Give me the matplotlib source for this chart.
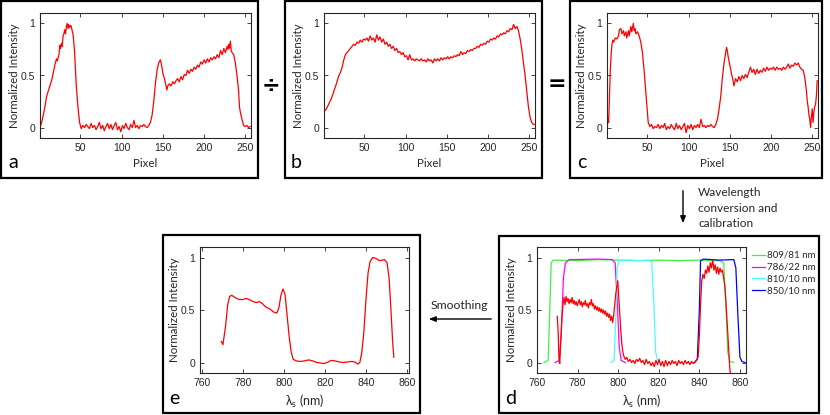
import matplotlib
matplotlib.use("Agg")
import matplotlib.pyplot as plt
from matplotlib.patches import Rectangle, FancyArrowPatch
import numpy as np

W, H = 830, 415

# ---------------- data ----------------
a_px = [1,3,5,7,9,11,13,15,17,19,21,22,24,25,26,27,28,29,30,31,32,33,34,35,36,37,38,39,40,41,42,43,44,45,46,47,48,49,50,51,
        53,55,57,59,61,63,65,67,69,71,73,75,77,79,81,83,85,87,89,91,93,95,97,99,101,103,105,107,109,111,113,115,117,119,121,123,125,127,129,131,133,
        135,137,139,141,143,145,147,148,149,150,152,154,155,156,158,160,162,164,166,168,170,172,174,176,178,180,182,184,186,188,190,192,194,196,198,
        200,202,204,206,208,210,212,214,216,218,220,222,224,226,228,229,230,231,232,233,234,236,238,240,242,243,244,246,248,250,252,254,256]
a_val = [0.00,0.05,0.12,0.20,0.30,0.35,0.40,0.45,0.52,0.60,0.66,0.64,0.70,0.79,0.76,0.81,0.78,0.88,0.90,0.94,0.90,0.97,1.00,0.95,0.99,0.96,0.98,0.97,0.93,0.90,0.82,0.72,0.55,0.40,0.30,0.20,0.12,0.05,0.02,-0.01,
         0.02,0.00,0.03,0.01,-0.01,0.04,0.00,0.02,-0.02,0.01,0.05,-0.01,0.02,-0.03,0.01,0.04,-0.01,0.03,-0.02,0.02,0.05,-0.02,0.01,-0.04,0.02,-0.01,0.04,0.00,-0.02,0.03,0.00,0.07,0.00,0.02,-0.01,0.02,0.01,0.03,0.01,0.00,0.02,
         0.05,0.12,0.25,0.42,0.55,0.62,0.65,0.62,0.58,0.52,0.47,0.40,0.36,0.40,0.42,0.40,0.44,0.42,0.45,0.47,0.44,0.49,0.46,0.51,0.50,0.55,0.52,0.56,0.54,0.58,0.56,0.60,0.58,0.63,0.61,
         0.65,0.62,0.66,0.63,0.67,0.65,0.68,0.66,0.70,0.67,0.74,0.70,0.76,0.72,0.78,0.75,0.80,0.76,0.83,0.74,0.72,0.70,0.62,0.50,0.35,0.20,0.15,0.08,0.02,0.01,0.02,0.00,0.01]

b_px = [1,4,7,10,13,16,19,21,23,25,27,29,31,33,35,37,39,41,43,45,47,49,51,53,55,57,59,61,63,65,67,69,71,73,75,77,79,81,83,85,87,89,91,93,95,97,99,
        101,103,105,107,109,111,113,115,117,119,121,123,125,127,129,131,133,135,137,139,141,143,145,147,149,151,153,155,157,159,161,163,165,167,169,171,173,175,177,179,
        181,183,185,187,189,191,193,195,197,199,201,203,205,207,209,211,213,215,217,219,221,223,225,227,229,231,233,235,237,239,241,243,245,247,249,251,253,255,256]
b_val = [0.15,0.18,0.23,0.28,0.35,0.42,0.50,0.53,0.58,0.65,0.70,0.72,0.74,0.76,0.78,0.80,0.79,0.82,0.81,0.84,0.82,0.85,0.84,0.86,0.83,0.88,0.84,0.86,0.82,0.89,0.84,0.87,0.82,0.85,0.80,0.82,0.78,0.80,0.76,0.78,0.74,0.76,0.72,0.73,0.70,0.72,0.68,
         0.69,0.65,0.70,0.65,0.66,0.64,0.66,0.65,0.64,0.66,0.64,0.65,0.63,0.66,0.64,0.65,0.62,0.66,0.64,0.66,0.64,0.67,0.65,0.67,0.66,0.68,0.66,0.68,0.67,0.69,0.68,0.70,0.69,0.73,0.70,0.72,0.71,0.74,0.73,0.75,
         0.74,0.76,0.76,0.78,0.77,0.80,0.79,0.81,0.80,0.83,0.82,0.85,0.84,0.86,0.85,0.88,0.87,0.90,0.89,0.91,0.90,0.93,0.92,0.95,0.94,0.99,0.95,0.97,0.93,0.85,0.75,0.62,0.50,0.35,0.20,0.10,0.05,0.03,0.03]

c_px = [1,2,3,4,5,6,7,8,9,11,13,15,16,18,19,21,22,24,25,27,28,30,31,33,34,35,36,38,40,42,44,46,48,50,51,53,55,57,59,61,63,65,67,69,71,73,75,77,79,81,83,85,87,89,91,93,95,97,99,
        101,103,105,107,109,111,113,115,117,119,121,123,125,127,129,131,133,135,137,139,141,143,145,146,147,148,150,152,154,155,157,159,161,163,165,167,169,171,173,175,177,179,
        181,183,185,187,189,191,193,195,197,199,201,203,205,207,209,211,213,215,217,219,221,223,225,227,229,231,233,235,237,239,241,243,244,245,246,247,248,249,250,251,252,253,254,255,256]
c_val = [-0.08,0.10,0.05,0.30,0.55,0.70,0.80,0.84,0.82,0.86,0.85,0.88,0.94,0.95,0.90,0.93,0.88,0.92,0.86,0.93,0.88,0.97,0.92,1.00,0.93,0.95,0.90,0.92,0.88,0.82,0.72,0.55,0.35,0.15,0.05,0.01,0.03,-0.01,0.01,0.00,0.03,-0.01,0.02,0.00,0.04,-0.02,0.01,-0.01,0.03,0.00,-0.02,0.04,-0.01,0.02,-0.02,0.01,0.04,-0.05,0.02,
         -0.01,0.03,-0.02,0.02,0.00,0.03,0.00,0.08,0.01,0.02,0.00,0.02,0.01,0.03,0.01,0.00,0.03,0.08,0.18,0.30,0.48,0.62,0.72,0.77,0.74,0.68,0.60,0.52,0.45,0.40,0.47,0.44,0.49,0.45,0.50,0.47,0.51,0.48,0.53,0.58,0.53,0.56,
         0.51,0.56,0.52,0.55,0.53,0.57,0.54,0.58,0.55,0.57,0.56,0.58,0.55,0.58,0.56,0.57,0.55,0.58,0.56,0.58,0.61,0.57,0.60,0.59,0.62,0.60,0.62,0.58,0.56,0.55,0.48,0.35,0.25,0.20,0.12,0.08,0.00,0.10,0.18,0.05,0.15,0.20,0.22,0.30,0.45]

d_nm = [770.0,770.4,770.8,771.2,771.6,772.2,772.8,773.3,773.8,774.3,774.8,775.3,775.8,776.3,776.8,777.3,777.8,778.3,778.8,779.3,779.8,780.3,780.8,781.3,781.8,782.3,782.8,783.3,783.8,784.3,784.8,
        785.3,785.8,786.3,786.8,787.3,787.8,788.3,788.8,789.3,789.8,790.3,790.8,791.3,791.8,792.3,792.8,793.3,793.8,794.3,794.8,795.3,795.8,796.3,796.8,797.3,797.8,798.3,798.8,799.3,799.8,
        800.3,800.8,801.3,801.8,802.3,802.8,803.5,804.2,805.0,805.8,806.6,807.4,808.2,809.0,809.8,810.6,811.4,812.2,813.0,813.8,814.6,815.4,816.2,817.0,817.8,818.6,819.4,820.2,821.0,821.8,
        822.6,823.4,824.2,825.0,825.8,826.6,827.4,828.2,829.0,829.8,830.6,831.4,832.2,833.0,833.8,834.6,835.4,836.2,837.0,837.8,838.6,839.4,840.0,840.6,841.2,841.8,842.4,843.0,843.6,844.2,
        844.8,845.4,846.0,846.6,847.2,847.8,848.4,849.0,849.6,850.2,850.8,851.4,852.0,852.6,853.2,853.8,854.4,855.0,855.5]
d_val = [0.44,0.30,0.05,-0.01,0.15,0.40,0.55,0.62,0.55,0.63,0.58,0.61,0.56,0.60,0.57,0.62,0.56,0.59,0.55,0.58,0.54,0.57,0.60,0.55,0.58,0.53,0.57,0.55,0.59,0.54,0.56,
         0.52,0.57,0.55,0.60,0.54,0.56,0.51,0.54,0.50,0.53,0.49,0.52,0.48,0.51,0.47,0.50,0.46,0.49,0.44,0.47,0.43,0.46,0.40,0.44,0.38,0.45,0.55,0.65,0.72,0.78,
         0.62,0.45,0.30,0.18,0.10,0.06,0.03,0.05,0.01,0.03,0.00,0.02,-0.01,0.03,0.01,0.04,0.00,0.02,-0.02,0.03,-0.01,0.01,-0.03,0.00,-0.04,0.02,-0.02,0.03,-0.03,0.01,
         -0.04,0.02,-0.03,0.01,-0.02,0.02,-0.01,0.01,-0.03,0.02,-0.01,0.01,-0.02,0.02,-0.01,0.01,-0.02,0.01,-0.01,0.00,0.02,0.05,0.25,0.55,0.78,0.84,0.80,0.88,0.85,0.92,
         0.86,0.95,0.90,0.98,0.88,0.93,0.85,0.91,0.84,0.90,0.86,0.88,0.80,0.72,0.55,0.35,0.15,-0.05,-0.15]

f809_nm = [763.5,765.5,766.3,767.0,768.0,780,790,800,810,820,830,840,850,852.0,853.0,854.0,855.0,857.0]
f809_val = [0.0,0.02,0.5,0.95,0.975,0.97,0.98,0.975,0.97,0.975,0.97,0.975,0.97,0.95,0.6,0.1,0.01,0.0]
f786_nm = [769.0,771.0,772.0,773.0,774.0,776.0,790.0,797.0,798.5,799.5,800.5,801.5,803.5]
f786_val = [0.0,0.02,0.3,0.8,0.95,0.98,0.985,0.98,0.95,0.6,0.15,0.02,0.0]
f810_nm = [796.5,798.0,798.8,799.5,800.5,805.0,810.0,815.0,816.5,817.5,818.5,819.5,820.5]
f810_val = [0.0,0.02,0.4,0.9,0.97,0.975,0.97,0.975,0.96,0.6,0.1,0.01,0.0]
f850_nm = [837.5,839.0,840.0,840.6,842.0,850.0,857.0,858.0,859.0,860.0,861.0,862.5]
f850_val = [0.0,0.03,0.5,0.97,0.985,0.975,0.98,0.9,0.45,0.05,0.01,0.0]
filter_labels = ["809/81 nm", "786/22 nm", "810/10 nm", "850/10 nm"]

e_nm = [769.4,770.2,771.5,772.5,773.5,774.5,776,778,780,781.5,783,785,786.5,788,789.5,791,793,795,796.5,797.5,798.5,799.5,800.5,801.5,802.5,803.5,804.5,
        806,808,810,812,814,816,818,819.5,821,823,825,827,829,831,833,834.5,836,837,838,839,840,841,842,843.3,845,846.5,848,849,850.3,851.3,852.2,853,853.6]
e_val = [0.20,0.17,0.35,0.55,0.63,0.64,0.62,0.60,0.60,0.61,0.60,0.58,0.57,0.58,0.56,0.53,0.51,0.48,0.47,0.52,0.64,0.70,0.65,0.45,0.25,0.10,0.03,
         0.015,0.01,0.015,0.025,0.015,0.0,-0.005,-0.01,0.0,0.02,0.015,0.005,0.0,0.005,0.01,0.005,-0.015,0.0,0.1,0.3,0.6,0.85,0.96,1.0,0.99,0.97,0.975,0.98,0.95,0.8,0.5,0.2,0.05]

# ---------------- helpers ----------------
fig = plt.figure(figsize=(W/100, H/100), dpi=100)
TICKF = "Liberation Sans"
LABF = "Lato"
TC = "#262626"

def rect(l, t, r, b):
    return [l/W, 1 - b/H, (r-l)/W, (b-t)/H]

def style(ax, xlim, xticks, xlabel, xlabsize=8.3):
    ax.set_xlim(*xlim)
    ax.set_ylim(-0.1, 1.1)
    ax.set_xticks(xticks)
    ax.set_yticks([0, 0.5, 1])
    ax.set_yticklabels(["0", "0.5", "1"])
    ax.tick_params(direction="in", length=3, width=0.6, top=True, right=True,
                   labelsize=7.5, colors=TC, pad=3.5)
    for lab in ax.get_xticklabels() + ax.get_yticklabels():
        lab.set_fontfamily(TICKF)
        lab.set_color(TC)
    for s in ax.spines.values():
        s.set_color(TC)
        s.set_linewidth(0.8)
    ax.set_ylabel("Normalized Intensity", fontfamily=LABF, fontsize=8.3, color=TC, labelpad=0.5)
    ax.set_xlabel(xlabel, fontfamily=[LABF, "DejaVu Sans"], fontsize=xlabsize, color=TC, labelpad=3.5)

def box(l, t, r, b):
    fig.patches.append(Rectangle((l/W, 1-b/H), (r-l)/W, (b-t)/H, transform=fig.transFigure,
                                 fill=False, edgecolor="black", linewidth=1.6))

def ftext(x, y, s, **kw):
    fig.text(x/W, 1-y/H, s, **kw)

def farrow(x1, y1, x2, y2):
    fig.patches.append(FancyArrowPatch((x1/W, 1-y1/H), (x2/W, 1-y2/H), transform=fig.transFigure,
                                       arrowstyle="-|>,head_length=4,head_width=1.6", color="black",
                                       linewidth=1.0, mutation_scale=1))

RED = "#ff0000"
lam = "λ$_\\mathregular{s}$ (nm)"
wl_ticks = [760, 780, 800, 820, 840, 860]
px_ticks = [50, 100, 150, 200, 250]

# panel a
axa = fig.add_axes(rect(40, 13, 251, 138))
axa.plot(a_px, a_val, color=RED, lw=0.9)
style(axa, (1, 257), px_ticks, "Pixel")
# panel b
axb = fig.add_axes(rect(324, 13, 535, 138))
axb.plot(b_px, b_val, color=RED, lw=0.9)
style(axb, (1, 257), px_ticks, "Pixel")
# panel c
axc = fig.add_axes(rect(607, 13, 818, 138))
axc.plot(c_px, c_val, color=RED, lw=0.9)
style(axc, (1, 257), px_ticks, "Pixel")

# panel d
axd = fig.add_axes(rect(537, 247, 746, 373))
hs = []
for xs, ys, col in [(f809_nm, f809_val, "#44ee44"), (f786_nm, f786_val, "#ff00ff"),
                    (f810_nm, f810_val, "#44ffff"), (f850_nm, f850_val, "#0000ff")]:
    h, = axd.plot(xs, ys, color=col, lw=0.9)
    hs.append(h)
axd.plot(d_nm, d_val, color=RED, lw=0.9)
style(axd, (761, 863), wl_ticks, lam, xlabsize=9)
leg = fig.legend(hs, filter_labels, loc="upper left", bbox_to_anchor=(752/W, 1-251/H),
                 frameon=False, prop={"family": LABF, "size": 7.0}, handlelength=1.35,
                 handletextpad=0.2, labelspacing=0.3, borderaxespad=0, borderpad=0)
for t in leg.get_texts():
    t.set_color(TC)

# panel e
axe = fig.add_axes(rect(200, 247, 409, 373))
axe.plot(e_nm, e_val, color=RED, lw=0.9)
style(axe, (759, 861), wl_ticks, lam, xlabsize=9)

# boxes
box(1, 1, 258, 178)
box(285, 1, 542, 178)
box(570, 1, 822, 178)
box(163, 235, 420, 413)
box(499, 236, 819, 413)

# panel letters
for x, y, s in [(8, 168, "a"), (291, 168, "b"), (577, 168, "c"), (505, 404, "d"), (169, 404, "e")]:
    ftext(x, y, s, fontfamily=LABF, fontsize=14, color="black", va="baseline", ha="left")

# operators
ftext(270.5, 86, "÷", fontfamily="DejaVu Sans", fontsize=16, ha="center", va="center", fontweight="bold")
ftext(557, 84, "=", fontfamily="DejaVu Sans", fontsize=16, ha="center", va="center", fontweight="bold")

# arrows and notes
farrow(683, 188, 683, 226)
ftext(698, 193, "Wavelength", fontfamily=LABF, fontsize=8.6, va="center", ha="left", color=TC)
ftext(698, 208, "conversion and", fontfamily=LABF, fontsize=8.6, va="center", ha="left", color=TC)
ftext(698, 223, "calibration", fontfamily=LABF, fontsize=8.6, va="center", ha="left", color=TC)
farrow(494, 319, 426, 319)
ftext(459, 305, "Smoothing", fontfamily=LABF, fontsize=8.8, va="center", ha="center", color=TC)

fig.savefig("out.png", dpi=100)
